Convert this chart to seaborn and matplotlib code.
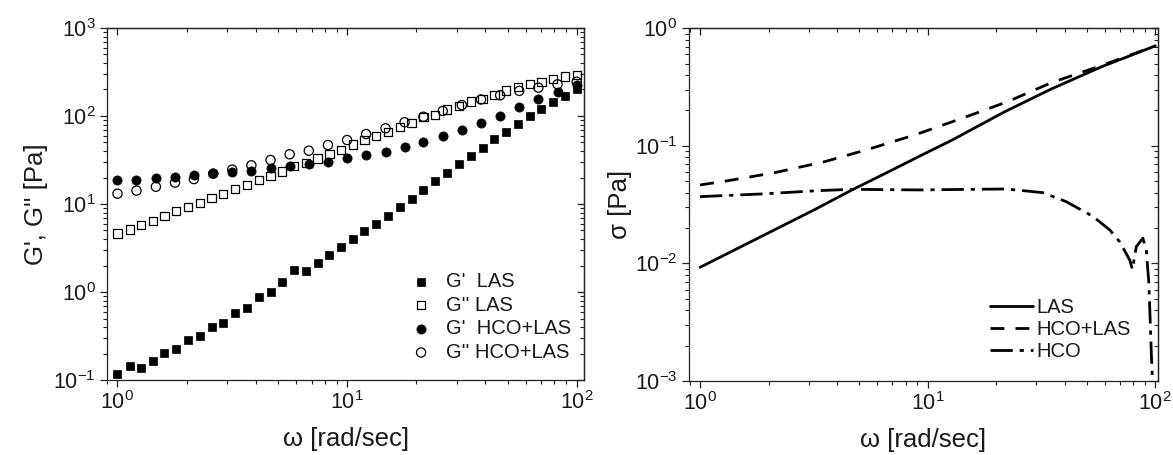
import numpy as np
import pandas as pd
import matplotlib
matplotlib.use("Agg")
import matplotlib.pyplot as plt
import seaborn as sns

# ---------------- data ----------------
omega_las = [1.00, 1.13, 1.27, 1.43, 1.60, 1.80, 2.03, 2.29, 2.57, 2.89,
             3.26, 3.67, 4.12, 4.64, 5.22, 5.88, 6.61, 7.44, 8.38, 9.43,
             10.6, 11.9, 13.4, 15.1, 17.0, 19.1, 21.5, 24.2, 27.3, 30.7,
             34.6, 38.9, 43.8, 49.2, 55.4, 62.4, 70.2, 79.0, 88.9, 100.0]
gp_las = [0.117, 0.146, 0.137, 0.166, 0.201, 0.227, 0.287, 0.319, 0.397, 0.444,
          0.582, 0.664, 0.871, 1.00, 1.29, 1.78, 1.75, 2.15, 2.61, 3.22,
          4.00, 4.93, 5.97, 7.36, 9.16, 11.4, 14.5, 18.1, 22.7, 28.3,
          35.1, 43.0, 54.3, 66.4, 81.1, 100.7, 120, 143, 169, 201]
gpp_las = [4.64, 5.15, 5.77, 6.46, 7.36, 8.26, 9.25, 10.3, 11.8, 13.1,
           14.7, 16.4, 18.7, 20.8, 23.5, 26.8, 29.0, 33.0, 36.7, 41.1,
           47.6, 53.4, 59.7, 65.3, 75.5, 83.9, 96.6, 103, 119, 130,
           146, 156, 173, 194, 215, 229, 245, 261, 280, 292]

omega_mix = [1.00, 1.21, 1.47, 1.78, 2.15, 2.61, 3.16, 3.83, 4.64, 5.62,
             6.81, 8.25, 10.0, 12.1, 14.7, 17.8, 21.5, 26.1, 31.6, 38.3,
             46.4, 56.2, 68.1, 82.5, 100.0]
gp_mix = [18.7, 18.7, 19.6, 20.3, 21.4, 22.3, 23.3, 24.0, 25.5, 27.3,
          28.5, 30.3, 33.0, 36.0, 39.3, 44.9, 51.1, 59.5, 69.4, 82.6,
          100.5, 125, 155, 187, 225]
gpp_mix = [13.1, 14.2, 15.7, 17.5, 19.2, 22.1, 24.6, 27.5, 31.6, 36.7,
           40.3, 46.8, 53.3, 62.4, 72.4, 85.0, 98.0, 114, 133, 154,
           172, 193, 210, 229, 245]

omega_sig_las = [1.0, 3.2, 4.63, 6.71, 10.0, 12.7, 21.8, 35.0, 58.0, 100.0]
sigma_las = [0.00927, 0.0288, 0.0420, 0.0600, 0.0885, 0.111, 0.195, 0.305, 0.470, 0.708]

omega_sig_mix = [1.0, 1.33, 2.13, 3.54, 5.48, 8.79, 14.1, 22.5, 35.0, 58.0, 100.0]
sigma_mix = [0.0465, 0.0506, 0.0592, 0.0735, 0.0935, 0.124, 0.171, 0.238, 0.345, 0.482, 0.708]

omega_sig_hco = [1.0, 1.87, 3.30, 4.63, 9.08, 22.2, 32.1, 40.7, 53.3, 63.1,
                 69.8, 77.3, 79.4, 82.6, 88.3, 91.4, 93.8, 96.1, 97.7]
sigma_hco = [0.037, 0.039, 0.0416, 0.0427, 0.0422, 0.0430, 0.0400, 0.0335, 0.0251, 0.0193,
             0.0153, 0.0107, 0.0089, 0.0139, 0.0164, 0.0130, 0.0068, 0.0018, 0.0008]

# ---------------- style ----------------
sns.set_theme(style="ticks")
plt.rcParams["font.family"] = ["Liberation Sans", "DejaVu Sans"]
plt.rcParams["mathtext.fontset"] = "custom"
plt.rcParams["mathtext.rm"] = "Liberation Sans"
plt.rcParams["mathtext.it"] = "Liberation Sans:italic"
plt.rcParams["mathtext.bf"] = "Liberation Sans:bold"
plt.rcParams["axes.edgecolor"] = "#222222"
plt.rcParams["axes.linewidth"] = 0.9

TXT = "#1a1a1a"
TICK_FS = 15.5
LABEL_FS = 18.5
LEG_FS = 14.5

fig = plt.figure(figsize=(11.73, 4.55), dpi=100)
ax1 = fig.add_axes([0.0912, 0.1648, 0.4070, 0.7737])
ax2 = fig.add_axes([0.5870, 0.1626, 0.4003, 0.7752])

for ax in (ax1, ax2):
    ax.set_xscale("log")
    ax.set_yscale("log")


def style_ticks(ax):
    ax.tick_params(which="both", direction="out", top=False, right=False,
                   colors="#222222", labelcolor=TXT, labelsize=TICK_FS)
    ax.tick_params(which="major", length=5, width=0.9, pad=3)
    ax.tick_params(which="minor", length=3, width=0.8)
    top = ax.secondary_xaxis("top")
    top.tick_params(which="both", direction="in", labeltop=False, colors="#222222")
    top.tick_params(which="major", length=5, width=0.9)
    top.tick_params(which="minor", length=3, width=0.8)
    right = ax.secondary_yaxis("right")
    right.tick_params(which="both", direction="in", labelright=False, colors="#222222")
    right.tick_params(which="major", length=5, width=0.9)
    right.tick_params(which="minor", length=3, width=0.8)


# ---------------- left panel ----------------
df_las = pd.DataFrame({"omega": omega_las, "gp": gp_las, "gpp": gpp_las})
df_mix = pd.DataFrame({"omega": omega_mix, "gp": gp_mix, "gpp": gpp_mix})

sns.scatterplot(data=df_las, x="omega", y="gp", marker="s", s=36, color="black",
                edgecolor="black", linewidth=0.5, label="G'  LAS", ax=ax1, zorder=3)
sns.scatterplot(data=df_las, x="omega", y="gpp", marker="s", s=36, color="black",
                edgecolor="black", linewidth=0.9, label="G'' LAS", ax=ax1, zorder=3)
ax1.collections[-1].set_facecolor("none")
sns.scatterplot(data=df_mix, x="omega", y="gp", marker="o", s=44, color="black",
                edgecolor="black", linewidth=0.5, label="G'  HCO+LAS", ax=ax1, zorder=3)
sns.scatterplot(data=df_mix, x="omega", y="gpp", marker="o", s=44, color="black",
                edgecolor="black", linewidth=0.9, label="G'' HCO+LAS", ax=ax1, zorder=3)
ax1.collections[-1].set_facecolor("none")

ax1.set_xlim(0.9, 108)
ax1.set_ylim(0.1, 1000)
ax1.set_xlabel("ω [rad/sec]", fontsize=LABEL_FS, color=TXT, labelpad=9)
ax1.set_ylabel("G', G'' [Pa]", fontsize=LABEL_FS, color=TXT, labelpad=4)
style_ticks(ax1)

leg1 = ax1.legend(loc="upper left", bbox_to_anchor=(0.62, 0.33), frameon=False,
                  fontsize=LEG_FS, handletextpad=0.75, labelspacing=0.23,
                  borderaxespad=0, handlelength=1.0)
for t in leg1.get_texts():
    t.set_color(TXT)
for h in leg1.legend_handles:
    h.set_edgecolor("black")
leg1.legend_handles[1].set_facecolor("none")
leg1.legend_handles[3].set_facecolor("none")

# ---------------- right panel ----------------
lw = 2.0
sns.lineplot(x=omega_sig_las, y=sigma_las, color="black", linewidth=lw,
             label="LAS", ax=ax2)
l_mix = sns.lineplot(x=omega_sig_mix, y=sigma_mix, color="black", linewidth=lw,
                     label="HCO+LAS", ax=ax2).lines[-1]
l_mix.set_dashes((5, 4))
l_hco = sns.lineplot(x=omega_sig_hco, y=sigma_hco, color="black", linewidth=lw,
                     label="HCO", ax=ax2).lines[-1]
l_hco.set_dashes((8, 2.5, 1.5, 2.5))

ax2.set_xlim(0.89, 103)
ax2.set_ylim(0.001, 1)
ax2.set_xlabel("ω [rad/sec]", fontsize=LABEL_FS, color=TXT, labelpad=9)
ax2.set_ylabel("σ [Pa]", fontsize=LABEL_FS, color=TXT, labelpad=2)
style_ticks(ax2)

leg2 = ax2.legend(loc="upper left", bbox_to_anchor=(0.625, 0.258), frameon=False,
                  fontsize=LEG_FS, handletextpad=0.15, labelspacing=0.15,
                  borderaxespad=0, handlelength=2.15)
for t in leg2.get_texts():
    t.set_color(TXT)
leg2.get_lines()[1].set_dashes((5, 4))
leg2.get_lines()[2].set_dashes((8, 2.5, 1.5, 2.5))

fig.savefig("out.png", dpi=100)
